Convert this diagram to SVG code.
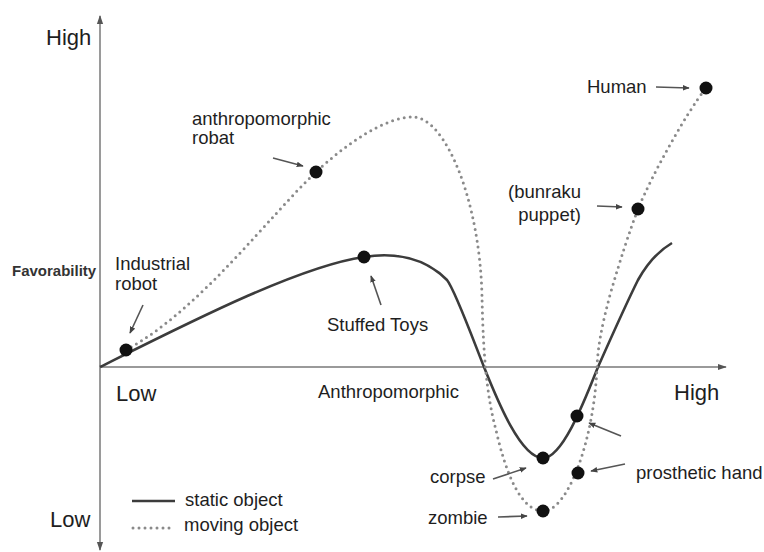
<svg xmlns="http://www.w3.org/2000/svg" width="764" height="552" viewBox="0 0 764 552">
<style>
text{font-family:"Liberation Sans",Arial,sans-serif;fill:#1e1e1e;font-size:18.5px}
.ax{font-size:22px}
.fav{font-size:15px;font-weight:bold;fill:#333}
.axis{stroke:#9a9a9a;stroke-width:2;fill:none}
.solid{stroke:#3c3c3c;stroke-width:2.6;fill:none}
.dotted{stroke:#8a8a8a;stroke-width:3;fill:none;stroke-linecap:round;stroke-dasharray:0 6}
.ptr{stroke:#555;stroke-width:1.6;fill:none;marker-end:url(#ah)}
.dot{fill:#111}
</style>
<defs>
<marker id="ah" viewBox="0 0 10 10" refX="9" refY="5" markerWidth="7" markerHeight="7" orient="auto" markerUnits="userSpaceOnUse">
<path d="M0,1 L10,5 L0,9 z" fill="#444"/>
</marker>
<marker id="axh" viewBox="0 0 10 10" refX="9" refY="5" markerWidth="9" markerHeight="9" orient="auto" markerUnits="userSpaceOnUse">
<path d="M0,1.5 L10,5 L0,8.5 z" fill="#555"/>
</marker>
</defs>
<rect width="764" height="552" fill="#fff"/>
<g id="axes">
<line class="axis" x1="100" y1="367" x2="100" y2="16" marker-end="url(#axh)"/>
<line class="axis" x1="100" y1="367" x2="100" y2="550" marker-end="url(#axh)"/>
<line class="axis" x1="100" y1="367" x2="726" y2="367" marker-end="url(#axh)"/>
<text class="ax" x="46" y="45">High</text>
<text class="fav" x="12" y="276">Favorability</text>
<text class="ax" x="50" y="527">Low</text>
<text class="ax" x="116" y="401">Low</text>
<text x="318" y="398">Anthropomorphic</text>
<text class="ax" x="674" y="400">High</text>
</g>
<g id="curves">
<path class="solid" d="M100,367 C190,322 300,266 364,257 C395,252 425,258 447,280 C455,290 474,342 484,367 C498,402 521,458 543,458 C563,458 586,397 598,367 C610,340 628,300 638,280 C648,262 660,250 672,243"/>
<path class="dotted" d="M126,350 C200,310 270,215 316,172 C346,144 385,117 413,117 C445,117 480,200 482,297 C483,340 485,390 496,430 C505,470 520,511 543,511 C568,511 594,440 597,367 C598,345 602,325 610,295 C620,260 630,230 638,209 C652,175 685,115 706,88"/>
</g>
<g id="legend">
<line x1="132" y1="501" x2="175" y2="501" stroke="#3c3c3c" stroke-width="2.6"/>
<text x="185" y="506">static object</text>
<line class="dotted" x1="133" y1="528" x2="172" y2="528"/>
<text x="184" y="531">moving object</text>
</g>
<g id="industrial-robot">
<circle class="dot" cx="126" cy="350" r="6.5"/>
<text x="115" y="270">Industrial</text>
<text x="115" y="290">robot</text>
</g>
<g id="anthropomorphic-robot">
<circle class="dot" cx="316" cy="172" r="6.5"/>
<text x="192" y="125">anthropomorphic</text>
<text x="192" y="144">robat</text>
</g>
<g id="stuffed-toys">
<circle class="dot" cx="364" cy="257" r="6.5"/>
<text x="327" y="331">Stuffed Toys</text>
</g>
<g id="human">
<circle class="dot" cx="706" cy="88" r="6.5"/>
<text x="587" y="93">Human</text>
</g>
<g id="bunraku-puppet">
<circle class="dot" cx="638" cy="209" r="6.5"/>
<text x="581" y="198" text-anchor="end">(bunraku</text>
<text x="581" y="221" text-anchor="end">puppet)</text>
</g>
<g id="corpse">
<circle class="dot" cx="543" cy="458" r="6.5"/>
<text x="430" y="483">corpse</text>
</g>
<g id="zombie">
<circle class="dot" cx="543" cy="511" r="6.5"/>
<text x="428" y="524">zombie</text>
</g>
<g id="prosthetic-hand">
<circle class="dot" cx="577" cy="416" r="6.5"/>
<circle class="dot" cx="578" cy="473" r="6.5"/>
<text x="636" y="479">prosthetic hand</text>
</g>
<g id="connectors">
<line class="ptr" x1="143" y1="305" x2="130" y2="333"/>
<line class="ptr" x1="273" y1="158" x2="303" y2="166"/>
<line class="ptr" x1="381" y1="305" x2="371" y2="276"/>
<line class="ptr" x1="656" y1="87" x2="689" y2="88"/>
<line class="ptr" x1="597" y1="206" x2="622" y2="207"/>
<line class="ptr" x1="493" y1="479" x2="526" y2="468"/>
<line class="ptr" x1="498" y1="517" x2="527" y2="516"/>
<line class="ptr" x1="625" y1="464" x2="591" y2="471"/>
<line class="ptr" x1="621" y1="436" x2="589" y2="423"/>
</g>
</svg>
